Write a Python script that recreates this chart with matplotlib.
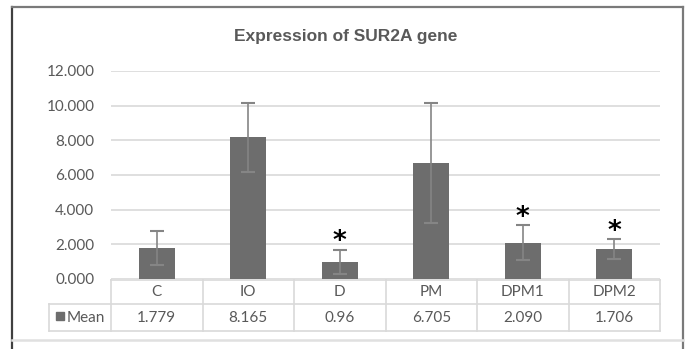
import matplotlib
matplotlib.use("Agg")
import matplotlib.pyplot as plt
from matplotlib.lines import Line2D
import numpy as np

categories = ["C", "IO", "D", "PM", "DPM1", "DPM2"]
means = [1.779, 8.165, 0.96, 6.705, 2.090, 1.706]
mean_labels = ["1.779", "8.165", "0.96", "6.705", "2.090", "1.706"]
errors = [1.0, 2.0, 0.7, 3.47, 1.0, 0.58]
significant = [False, False, True, False, True, True]
yticks = [0, 2, 4, 6, 8, 10, 12]
ytick_labels = ["0.000", "2.000", "4.000", "6.000", "8.000", "10.000", "12.000"]

W, H = 690, 349
fig = plt.figure(figsize=(W / 100, H / 100), dpi=100)

def fx(x):
    return x / W

def fy(y):
    return 1 - y / H

left_px, right_px, top_px, bot_px = 111, 660, 71, 279
ax = fig.add_axes([fx(left_px), fy(bot_px), fx(right_px) - fx(left_px), fy(top_px) - fy(bot_px)])

x = np.arange(len(categories))
bar_color = "#6d6d6d"
ax.bar(x, means, width=0.39, color=bar_color, zorder=2)
ax.errorbar(x, means, yerr=errors, fmt="none", ecolor="#858585", elinewidth=1.2,
            capsize=5, capthick=1.5, zorder=3)
for xi, m, e, s in zip(x, means, errors, significant):
    if s:
        ax.text(xi, m + e - 0.3, "*", ha="center", va="bottom", fontsize=19,
                fontweight="bold", color="black", family="DejaVu Sans")

ax.set_xlim(-0.5, len(categories) - 0.5)
ax.set_ylim(0, 12)
ax.set_yticks(yticks)
ax.set_yticklabels(ytick_labels, fontsize=11, color="#595959", family="Lato")
ax.set_xticks([])
ax.tick_params(axis="y", length=0, pad=12)
for sp in ax.spines.values():
    sp.set_visible(False)
ax.grid(axis="y", color="#d9d9d9", linewidth=1.2, zorder=0)
ax.set_axisbelow(True)

# Title
fig.text(fx(346), fy(37), "Expression of SUR2A gene", ha="center", va="center",
         fontsize=12.5, fontweight="bold", color="#595959", family="Liberation Sans")

# Data table
grid_c = "#d9d9d9"
row_top, row_mid, row_bot = 280, 304, 331
legend_left = 49
ncol = len(categories)
col_w = (right_px - left_px) / ncol

def hline(x0, x1, y, c=grid_c, lw=1.2):
    fig.add_artist(Line2D([fx(x0), fx(x1)], [fy(y), fy(y)], color=c, lw=lw))

def vline(xp, y0, y1, c=grid_c, lw=1.2):
    fig.add_artist(Line2D([fx(xp), fx(xp)], [fy(y0), fy(y1)], color=c, lw=lw))

hline(left_px, right_px, row_top)
hline(legend_left, right_px, row_mid)
hline(legend_left, right_px, row_bot)
vline(legend_left, row_mid, row_bot)
for i in range(ncol + 1):
    vline(left_px + i * col_w, row_top, row_bot)

for i, (cat, lab) in enumerate(zip(categories, mean_labels)):
    cx = left_px + (i + 0.5) * col_w
    fig.text(fx(cx), fy((row_top + row_mid) / 2), cat, ha="center", va="center",
             fontsize=11, color="#595959", family="Lato")
    fig.text(fx(cx), fy((row_mid + row_bot) / 2), lab, ha="center", va="center",
             fontsize=11, color="#595959", family="Lato")

# legend key
fig.add_artist(plt.Rectangle((fx(56), fy(320)), fx(8), fy(312) - fy(320),
                             color=bar_color, transform=fig.transFigure))
fig.text(fx(67), fy((row_mid + row_bot) / 2), "Mean", ha="left", va="center",
         fontsize=11, color="#595959", family="Lato")

# Outer frame
fig.add_artist(Line2D([fx(11.5), fx(11.5)], [fy(6.5), 0], color="#404040", lw=1.6))
fig.add_artist(Line2D([fx(11.5), fx(683)], [fy(6.5), fy(6.5)], color="#7a7a7a", lw=1.6))
fig.add_artist(Line2D([fx(683), fx(683)], [fy(6.5), 0], color="#7a7a7a", lw=1.6))
hline(12, 683, 339.5, c="#e0e0e0", lw=1.8)

fig.savefig("out.png", dpi=100)
